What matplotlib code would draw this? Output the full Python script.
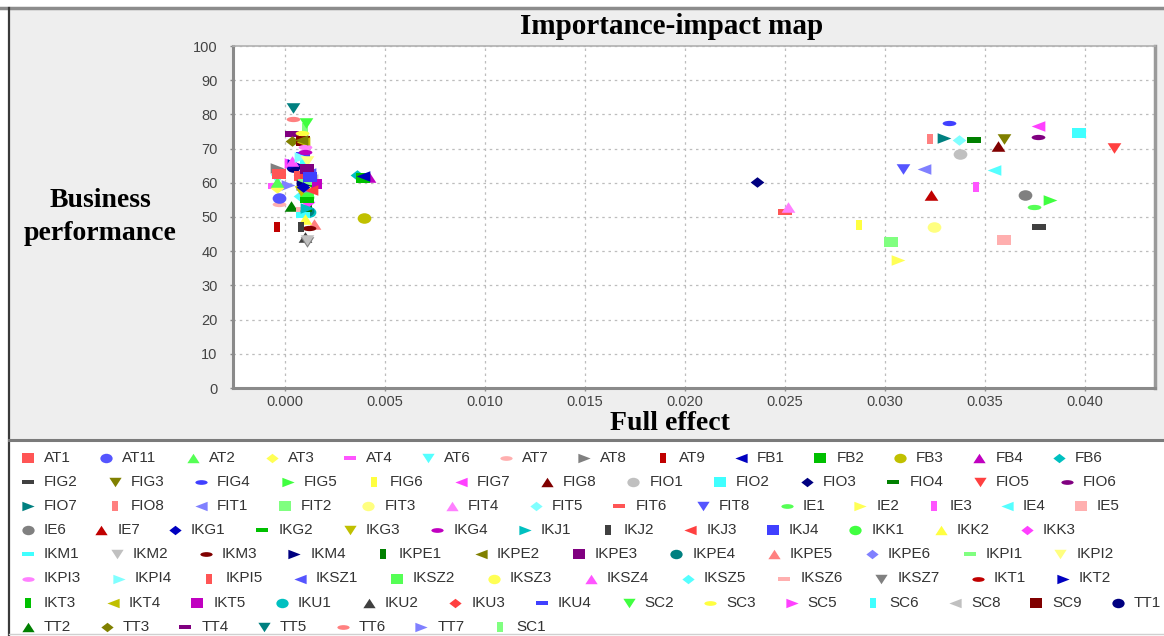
import matplotlib
matplotlib.use("Agg")
import matplotlib.pyplot as plt
from matplotlib.path import Path
from matplotlib.markers import MarkerStyle
from matplotlib.transforms import Affine2D
from matplotlib.lines import Line2D
from matplotlib.patches import Rectangle

W, H = 1164, 636

names = [
    "AT1", "AT11", "AT2", "AT3", "AT4", "AT6", "AT7", "AT8", "AT9", "FB1", "FB2", "FB3", "FB4", "FB6",
    "FIG2", "FIG3", "FIG4", "FIG5", "FIG6", "FIG7", "FIG8", "FIO1", "FIO2", "FIO3", "FIO4", "FIO5", "FIO6",
    "FIO7", "FIO8", "FIT1", "FIT2", "FIT3", "FIT4", "FIT5", "FIT6", "FIT8", "IE1", "IE2", "IE3", "IE4", "IE5",
    "IE6", "IE7", "IKG1", "IKG2", "IKG3", "IKG4", "IKJ1", "IKJ2", "IKJ3", "IKJ4", "IKK1", "IKK2", "IKK3",
    "IKM1", "IKM2", "IKM3", "IKM4", "IKPE1", "IKPE2", "IKPE3", "IKPE4", "IKPE5", "IKPE6", "IKPI1", "IKPI2",
    "IKPI3", "IKPI4", "IKPI5", "IKSZ1", "IKSZ2", "IKSZ3", "IKSZ4", "IKSZ5", "IKSZ6", "IKSZ7", "IKT1", "IKT2",
    "IKT3", "IKT4", "IKT5", "IKU1", "IKU2", "IKU3", "IKU4", "SC2", "SC3", "SC5", "SC6", "SC8", "SC9", "TT1",
    "TT2", "TT3", "TT4", "TT5", "TT6", "TT7", "SC1",
]

full_effect = [
    -0.0003, -0.0003, -0.0004, -0.0004, -0.0005, -0.0004, -0.0003, -0.0004, -0.0004,
    0.0039, 0.0039, 0.00395, 0.0042, 0.0036,
    0.03772, 0.03597, 0.0332, 0.03825, 0.0287, 0.03763, 0.03563, 0.03375, 0.03972, 0.02358, 0.03445,
    0.04147, 0.03763,
    0.03295, 0.03225, 0.03195, 0.0303, 0.03245, 0.02516, 0.0337, 0.0250, 0.03088, 0.03747, 0.03066,
    0.03453, 0.03545, 0.03597,
    0.0370, 0.03228, 0.0009, 0.0011, 0.0008, 0.0010, 0.0011, 0.0008, 0.0013, 0.00125, 0.0011, 0.0010,
    0.00115,
    0.0009, 0.0011, 0.0012, 0.0009, 0.0012, 0.0008, 0.0011, 0.0011, 0.00145, 0.0010, 0.0010, 0.00108,
    0.0010, 0.0008, 0.0006, 0.0012, 0.0011, 0.0010, 0.00033, 0.00075, 0.0009, 0.0011, 0.0012, 0.00045,
    0.0012, 0.0009, 0.0015, 0.0012, 0.0010, 0.00075, 0.0009, 0.00105, 0.00083, 0.0003, 0.0009, 0.0013,
    0.0009, 0.0004,
    0.00028, 0.00033, 0.00033, 0.00042, 0.00042, 0.00017, 0.0010,
]

performance = [
    62.5, 55.7, 60.1, 58.4, 59.0, 61.0, 53.9, 64.3, 47.0, 62.0, 61.3, 49.8, 61.8, 62.3,
    47.0, 72.8, 77.6, 55.1, 47.8, 76.7, 70.8, 68.4, 74.6, 60.3, 72.5, 70.1, 73.3,
    73.0, 72.9, 64.0, 42.7, 47.2, 53.0, 72.5, 51.6, 64.0, 52.9, 37.3, 58.9, 63.6, 43.4,
    56.5, 56.5, 58.7, 55.0, 57.6, 69.1, 52.6, 47.0, 57.8, 61.6, 55.9, 49.4, 54.3,
    50.6, 43.3, 46.8, 59.5, 53.0, 72.5, 64.0, 51.9, 48.0, 57.0, 60.3, 66.5,
    70.5, 67.6, 62.0, 63.0, 56.7, 58.0, 66.5, 56.0, 52.0, 42.6, 62.8, 65.5,
    60.3, 71.8, 59.7, 51.4, 44.2, 62.2, 68.0, 77.6, 74.7, 65.8, 66.5, 61.0, 72.1, 64.7,
    53.2, 72.3, 74.4, 82.0, 78.6, 59.3, 76.0,
]

legend_rows = [14, 13, 14, 13, 12, 12, 14, 7]

# default jfreechart series paints
palette = [
    "#FF5555", "#5555FF", "#55FF55", "#FFFF55", "#FF55FF", "#55FFFF", "#FFAFAF", "#808080",
    "#C00000", "#0000C0", "#00C000", "#C0C000", "#C000C0", "#00C0C0", "#404040",
    "#FF4040", "#4040FF", "#40FF40", "#FFFF40", "#FF40FF", "#40FFFF", "#C0C0C0",
    "#800000", "#000080", "#008000", "#808000", "#800080", "#008080",
    "#FF8080", "#8080FF", "#80FF80", "#FFFF80", "#FF80FF", "#80FFFF",
]


def poly(pts):
    return Path(pts + [pts[0]], closed=True)


circ = Path.unit_circle()
shapes = [
    poly([(-1, -1), (1, -1), (1, 1), (-1, 1)]),          # square
    circ,                                                 # circle
    poly([(0, 1), (1, -1), (-1, -1)]),                    # up triangle
    poly([(0, 1), (1, 0), (0, -1), (-1, 0)]),             # diamond
    poly([(-1, -0.5), (1, -0.5), (1, 0.5), (-1, 0.5)]),   # horizontal rect
    poly([(0, -1), (1, 1), (-1, 1)]),                     # down triangle
    Path(circ.vertices * [1, 0.5], circ.codes),           # horizontal ellipse
    poly([(1, 0), (-1, -1), (-1, 1)]),                    # right triangle
    poly([(-0.5, -1), (0.5, -1), (0.5, 1), (-0.5, 1)]),   # vertical rect
    poly([(-1, 0), (1, -1), (1, 1)]),                     # left triangle
]

# screenshot is stretched sideways
stretch = Affine2D().scale(1.3, 1)

style_idx = list(range(len(names)))
style_idx[15], style_idx[25] = 25, 15
style_idx[20], style_idx[22] = 22, 20


def mk(i):
    return MarkerStyle(shapes[style_idx[i] % 10], transform=stretch)


def col(i):
    return palette[style_idx[i] % 34]


def fx(px):
    return px / W


def fy(py):
    return 1 - py / H


fig = plt.figure(figsize=(W / 100, H / 100), dpi=100)
fig.patch.set_facecolor("white")

# chart background and borders
fig.add_artist(Rectangle((fx(9), fy(440)), 1, (440 - 9) / H, transform=fig.transFigure,
                         facecolor="#EEEEEE", edgecolor="none", zorder=0))
fig.add_artist(Line2D([0, 1], [fy(8), fy(8)], color="#8C8C8C", lw=2.5, zorder=1))
fig.add_artist(Line2D([fx(9), fx(9)], [fy(8), 0], color="#3A3A3A", lw=1.6, zorder=1))
fig.add_artist(Line2D([fx(9), 1], [fy(440), fy(440)], color="#7A7A7A", lw=2.2, zorder=1))
fig.add_artist(Line2D([fx(9), 1], [fy(634), fy(634)], color="#D0D0D0", lw=1, zorder=1))

ax = fig.add_axes([fx(233), fy(388), (1155 - 233) / W, (388 - 46) / H])
ax.set_facecolor("white")

n = len(names)
for i in range(n):
    ax.plot([full_effect[i]], [performance[i]], linestyle="none", marker=mk(i),
            markersize=7.6, color=col(i), markeredgewidth=0, zorder=3 + (n - i) * 0.01)

ax.set_xlim(-0.0026, 0.0435)
ax.set_ylim(0, 100)
ax.set_xticks([0.005 * k for k in range(9)])
ax.set_xticklabels([f"{0.005 * k:.3f}" for k in range(9)])
ax.set_yticks(range(0, 101, 10))
ax.grid(True, color="#BDBDBD", linestyle=(0, (2, 3)), linewidth=0.9)
ax.set_axisbelow(True)
for side in ["left", "bottom"]:
    ax.spines[side].set_color("#8A8A8A")
    ax.spines[side].set_linewidth(2.2)
ax.spines["top"].set_color("#B0B0B0")
ax.spines["top"].set_linewidth(1.2)
ax.spines["right"].set_color("#9A9A9A")
ax.spines["right"].set_linewidth(2.5)
ax.tick_params(colors="#8A8A8A", labelcolor="#444444", length=2, width=1)
ax.tick_params(axis="y", pad=9)
ax.tick_params(axis="x", pad=3)
for lab in ax.get_xticklabels() + ax.get_yticklabels():
    lab.set_fontfamily("Liberation Sans")
    lab.set_fontsize(10.5)

serif = "Liberation Serif"
fig.text(fx(672), fy(27), "Importance-impact map", ha="center", va="center",
         fontsize=21, fontweight="bold", family=serif)
fig.text(fx(100), fy(217), "Business\nperformance", ha="center", va="center",
         fontsize=20, fontweight="bold", family=serif, linespacing=1.45)
fig.text(fx(670), fy(424), "Full effect", ha="center", va="center",
         fontsize=20, fontweight="bold", family=serif)

# legend, flowing left to right like the original
renderer = fig.canvas.get_renderer()
k = 0
for r, cnt in enumerate(legend_rows):
    mx = 28
    yc = 458 + r * 24.1
    for _ in range(cnt):
        fig.add_artist(Line2D([fx(mx)], [fy(yc)], linestyle="none", marker=mk(k),
                              markersize=6.8, color=col(k), markeredgewidth=0))
        t = fig.text(fx(mx + 16), fy(yc), names[k], ha="left", va="center",
                     fontsize=11, family="Liberation Sans", color="#333333")
        w = t.get_window_extent(renderer).width
        mx = mx + 16 + w * 1.2 + 30
        k += 1

fig.savefig("out.png", dpi=100)
